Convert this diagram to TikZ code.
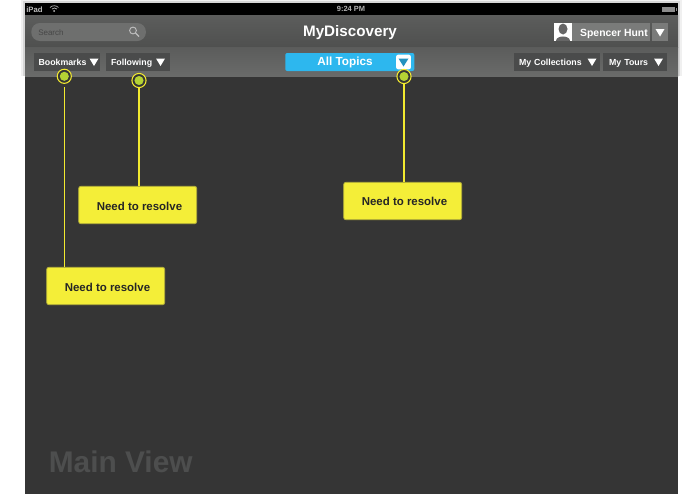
\documentclass[tikz,border=0pt]{standalone}
\usepackage{fontspec}
\setmainfont{Liberation Sans}
\definecolor{viewbg}{HTML}{353535}
\definecolor{mainlbl}{HTML}{4D4E4E}
\definecolor{noteyel}{HTML}{F4EE38}
\definecolor{noteedge}{HTML}{B5B13A}
\definecolor{linkyel}{HTML}{F2E92F}
\definecolor{dotgreen}{HTML}{B5D334}
\definecolor{btn}{HTML}{4A4B4B}
\definecolor{topa}{HTML}{5C5D5C}
\definecolor{topb}{HTML}{4F504F}
\definecolor{bara}{HTML}{5B5C5B}
\definecolor{barb}{HTML}{6A6B6A}
\definecolor{sky}{HTML}{2DB7EE}
\definecolor{namebox}{HTML}{7A7B7A}
\definecolor{pill}{HTML}{6E6F6E}
\newcommand{\tri}[3]{\fill[#3] (#1-4.5,#2-3.5) -- (#1+4.5,#2-3.5) -- (#1,#2+4) -- cycle;}
\tikzset{
  x=0.75pt,y=-0.75pt,
  btnbox/.style={fill=btn,text=white,font=\fontsize{6.6}{8}\selectfont\bfseries,inner sep=0pt,minimum height=13.5pt,anchor=west,text depth=0pt},
  note/.style={fill=noteyel,draw=noteedge,line width=0.6pt,rounded corners=1.6pt,minimum width=88.5pt,minimum height=28pt,inner sep=0pt},
  notetext/.style={text=black!85,inner sep=0pt,font=\fontsize{8.6}{11}\selectfont\bfseries},
  marker/.style={circle,fill=viewbg,draw=linkyel,line width=0.8pt,minimum size=10.6pt,inner sep=0pt,outer sep=0pt},
  markerdot/.style={circle,fill=dotgreen,minimum size=6.8pt,inner sep=0pt,outer sep=0pt},
  link/.style={draw=linkyel,line width=1pt},
}
\begin{document}
\begin{tikzpicture}
\useasboundingbox (0,0) rectangle (700,500);
\fill[white] (0,0) rectangle (700,500);
% main view
\fill[viewbg] (25,0) rectangle (678,494);
\node[anchor=west,text=mainlbl,inner sep=0pt,font=\fontsize{22.4}{28}\selectfont\bfseries] (mainview) at (48.5,462) {Main View};
% header with shadow
\fill[black!6] (21,0) rectangle (682,76);
\fill[black!16] (23,1) rectangle (680,76);
\fill[black] (25,3) rectangle (678,15);
\shade[top color=topa,bottom color=topb] (25,15) rectangle (678,47);
\shade[top color=bara,bottom color=barb] (25,47) rectangle (678,76);
% status bar
\node[text=black!25,inner sep=0pt,anchor=west,font=\fontsize{5.8}{7}\selectfont\bfseries] (ipad) at (26,9.3) {iPad};
\draw[white!75!black,line width=0.5pt] (50,7.5) arc[start angle=225,end angle=315,radius=6]
  (52,9) arc[start angle=225,end angle=315,radius=3.5];
\fill[white!75!black] (54.2,11) circle (1);
\node[text=black!30,inner sep=0pt,font=\fontsize{5.6}{7}\selectfont\bfseries] (clock) at (351,9.3) {9:24 PM};
\fill[black!45] (662,6.5) rectangle (675,12);
\fill[black!45] (675.5,8) rectangle (676.5,10.5);
% search
\node[fill=pill,rounded corners=6.5pt,minimum width=86pt,minimum height=13.5pt,inner sep=0pt,anchor=west] (search) at (31,32) {};
\node[anchor=west,inner sep=0pt,text=black!72,font=\fontsize{6}{7}\selectfont] (searchlbl) at (38,32.5) {Search};
\draw[black!25,line width=0.7pt] (133,30.5) circle (3.4);
\draw[black!25,line width=1pt] (135.5,33) -- (139,36.5);
% title
\node[text=white,inner sep=0pt,font=\fontsize{11.4}{14}\selectfont\bfseries] (title) at (350,32.8) {MyDiscovery};
% user
\node[fill=namebox,minimum width=58.5pt,minimum height=13.5pt,inner sep=0pt,anchor=west] (namecell) at (572,32) {};
\node[text=white,inner sep=0pt,font=\fontsize{7.8}{10}\selectfont\bfseries] (username) at (614,33.5) {Spencer Hunt};
\fill[white] (554,23) rectangle (572,41);
\fill[black!60] (563,29) ellipse (4.5 and 5.5);
\fill[black!60] (556,41) .. controls (556,35) and (570,35) .. (570,41) -- cycle;
\node[fill=namebox,minimum width=12pt,minimum height=13.5pt,inner sep=0pt,anchor=west] (usermenu) at (652,32) {};
\tri{660}{32.5}{white}
% nav buttons
\node[btnbox,minimum width=49.5pt,text width=49.5pt] (bookmarks) at (34,62) {\hspace*{3.2pt}Bookmarks};
\tri{94}{62}{white}
\node[btnbox,minimum width=48pt,text width=48pt] (following) at (106,62) {\hspace*{3.6pt}Following};
\tri{160.5}{62}{white}
\node[btnbox,minimum width=64.5pt,text width=64.5pt] (collections) at (514,62) {\hspace*{3.6pt}My Collections};
\tri{592}{62}{white}
\node[btnbox,minimum width=48pt,text width=48pt] (tours) at (603,62) {\hspace*{4.4pt}My Tours};
\tri{658.5}{62}{white}
% topic selector
\node[fill=sky,rounded corners=1.5pt,minimum width=96.8pt,minimum height=13.5pt,inner sep=0pt,anchor=west] (topics) at (285,62) {};
\node[text=white,inner sep=0pt,font=\fontsize{8.8}{11}\selectfont\bfseries] (topicslbl) at (345,62.6) {All Topics};
\node[fill=white,rounded corners=1.5pt,minimum size=11pt,inner sep=0pt] (topicsarrow) at (403.5,62) {};
\fill[sky!80!black] (398.5,58.5) -- (408.5,58.5) -- (403.5,66.5) -- cycle;
% markers
\node[marker] (m1) at (64.3,76.3) {};
\node[markerdot] (d1) at (m1.center) {};
\node[marker] (m2) at (139,80.5) {};
\node[markerdot] (d2) at (m2.center) {};
\node[marker] (m3) at (404,76.5) {};
\node[markerdot] (d3) at (m3.center) {};
% notes
\node[note] (n1) at (105.7,286) {};
\node[note] (n2) at (137.7,205) {};
\node[note] (n3) at (402.7,201) {};
\node[notetext] (t1) at (107.5,287.2) {Need to resolve};
\node[notetext] (t2) at (139.5,206.2) {Need to resolve};
\node[notetext] (t3) at (404.5,201.3) {Need to resolve};
% connectors
\draw[link,shorten <=3pt] (m1.south) -- (m1.south |- n1.north);
\draw[link] (m2.south) -- (m2.south |- n2.north);
\draw[link] (m3.south) -- (m3.south |- n3.north);
\end{tikzpicture}
\end{document}
